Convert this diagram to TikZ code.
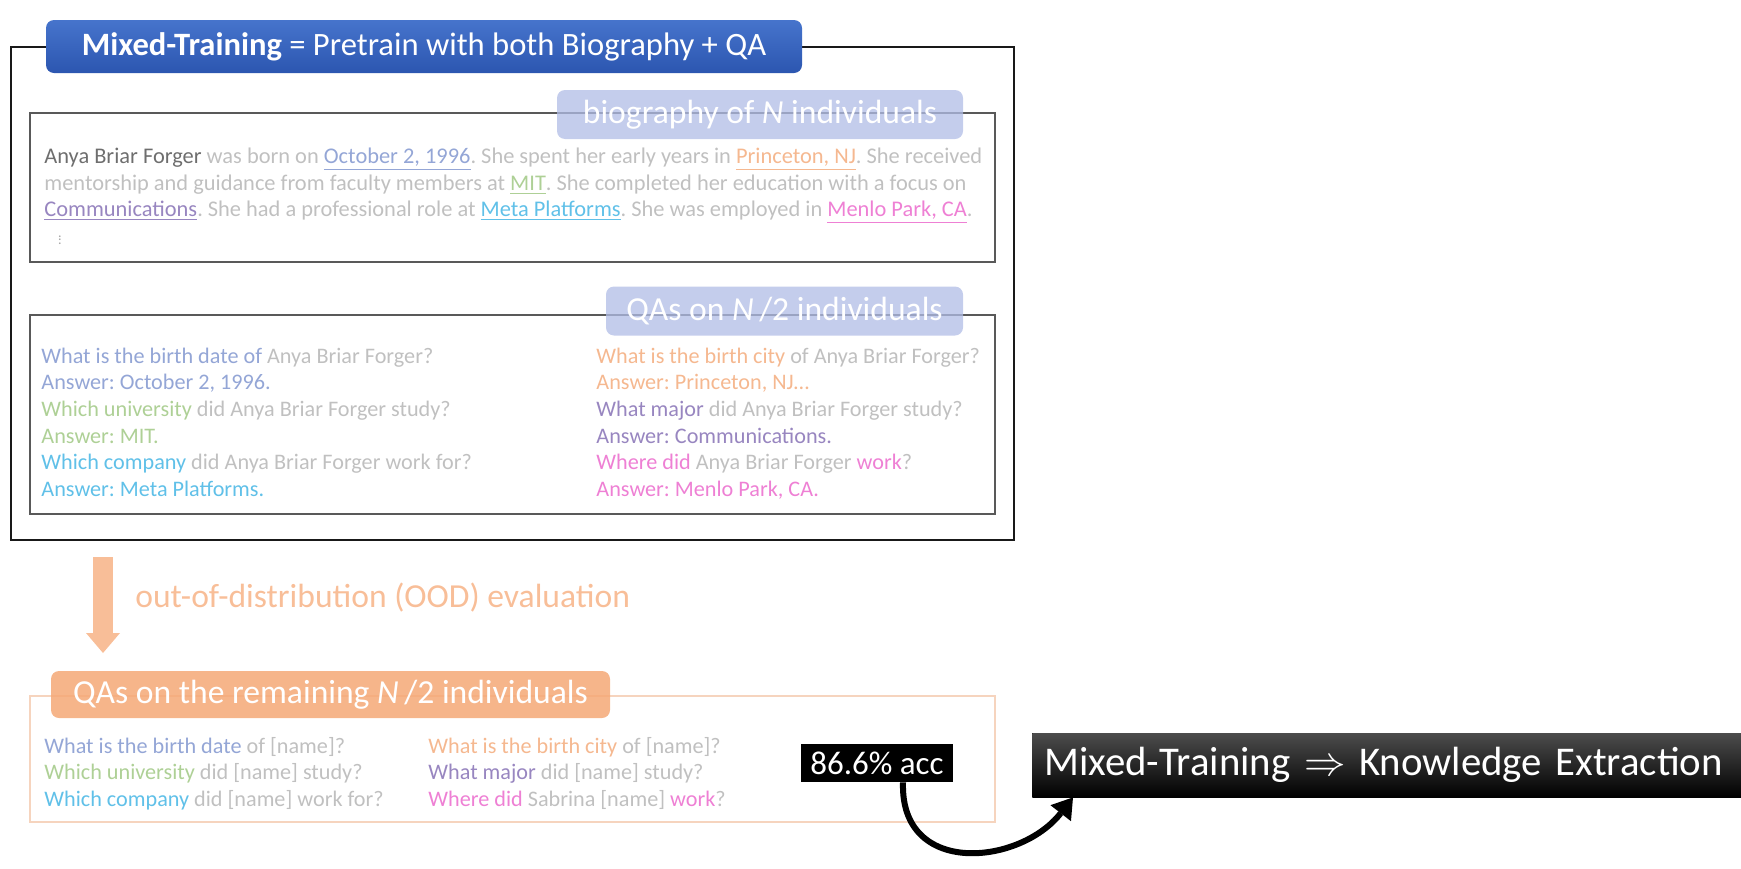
\documentclass[tikz,border=0pt]{standalone}
\usepackage{amsmath,amssymb}
\usepackage{fontspec}
\setmainfont{Carlito}
\usetikzlibrary{arrows.meta,fit}
\frenchspacing

\definecolor{bluebar}{RGB}{70,116,204}
\definecolor{bluebardark}{RGB}{44,86,176}
\definecolor{lavender}{RGB}{176,188,230}
\definecolor{peach}{RGB}{245,168,118}
\definecolor{peachline}{RGB}{246,212,190}
\definecolor{oodorange}{RGB}{248,190,152}
\definecolor{softgray}{RGB}{192,192,192}
\definecolor{namegray}{RGB}{110,110,110}
\definecolor{qblue}{RGB}{148,166,214}
\definecolor{qorange}{RGB}{245,184,144}
\definecolor{qgreen}{RGB}{174,208,150}
\definecolor{qpurple}{RGB}{152,134,192}
\definecolor{qcyan}{RGB}{96,192,232}
\definecolor{qpink}{RGB}{238,128,212}

\newcommand{\qBlue}[1]{\textcolor{qblue}{#1}}
\newcommand{\qOrange}[1]{\textcolor{qorange}{#1}}
\newcommand{\qGreen}[1]{\textcolor{qgreen}{#1}}
\newcommand{\qPurple}[1]{\textcolor{qpurple}{#1}}
\newcommand{\qCyan}[1]{\textcolor{qcyan}{#1}}
\newcommand{\qPink}[1]{\textcolor{qpink}{#1}}
\newcommand{\uBlue}[1]{\textcolor{qblue}{\underline{#1}}}
\newcommand{\uOrange}[1]{\textcolor{qorange}{\underline{#1}}}
\newcommand{\uGreen}[1]{\textcolor{qgreen}{\underline{#1}}}
\newcommand{\uPurple}[1]{\textcolor{qpurple}{\underline{#1}}}
\newcommand{\uCyan}[1]{\textcolor{qcyan}{\underline{#1}}}
\newcommand{\uPink}[1]{\textcolor{qpink}{\underline{#1}}}

\begin{document}
\begin{tikzpicture}[x=0.5pt,y=-0.5pt]
        \tikzstyle{frame} = [draw=black!90, line width=1pt, inner sep=0pt];
        \tikzstyle{panel} = [draw=black!65, line width=0.8pt, inner sep=0pt];
        \tikzstyle{tag} = [rounded corners=4pt, inner sep=0pt, text=white, font=\fontsize{16.8}{20}\selectfont];
        \tikzstyle{softtag} = [tag, fill=lavender, fill opacity=0.75, text opacity=1];
        \tikzstyle{bodyline} = [anchor=base west, inner sep=0pt, text=softgray, font=\fontsize{11.1}{13.35}\selectfont];
        \tikzstyle{bioline} = [bodyline, font=\fontsize{11.2}{13.35}\selectfont];
        \tikzstyle{blackbox} = [fill=black, text=white, inner sep=0pt];
        \tikzstyle{oodarrow} = [draw=oodorange, line width=10pt, -{Triangle[length=10pt,width=17pt,line width=0pt]}];
        \tikzstyle{bendarrow} = [draw=black, line width=3pt, -{Triangle[length=10pt,width=13pt,line width=0pt]}];

        \useasboundingbox (0,0) rectangle (1741,868);

        % pretraining data
        \node[frame, fit={(11,47) (1014,540)}] (mix) {};
        \node[tag, top color=bluebar, bottom color=bluebardark, minimum width=378pt, minimum height=26.5pt, font=\fontsize{16.3}{20}\selectfont] (mixTitle) at (424,46.5) {\textbf{Mixed-Training} = Pretrain with both Biography + QA};

        \node[panel, fit={(30,113) (995,262)}] (bio) {};
        \node[softtag, minimum width=203pt, minimum height=24.5pt] (bioTag) at (760,114.5) {biography of \textit{N} individuals};
        \node[bioline] (bio1) at (44,163) {\textcolor{namegray}{Anya Briar Forger} was born on \uBlue{October 2, 1996}. She spent her early years in \uOrange{Princeton, NJ}. She received};
        \node[bioline] (bio2) at (44,190) {mentorship and guidance from faculty members at \uGreen{MIT}. She completed her education with a focus on};
        \node[bioline] (bio3) at (44,216) {\uPurple{Communications}. She had a professional role at \uCyan{Meta Platforms}. She was employed in \uPink{Menlo Park, CA}.};
        \node[text=black!35, inner sep=0pt, font=\scriptsize, rotate=90] (bioDots) at (60,240) {...};

        \node[panel, fit={(30,315) (995,514)}] (qa) {};
        \node[softtag, minimum width=178.5pt, minimum height=24.5pt] (qaTag) at (784.5,311) {QAs on \textit{N}\,/2 individuals};
        \foreach \txt [count=\i from 0] in {
            {\qBlue{What is the birth date of} Anya Briar Forger?},
            {\qBlue{Answer: October 2, 1996.}},
            {\qGreen{Which university} did Anya Briar Forger study?},
            {\qGreen{Answer: MIT.}},
            {\qCyan{Which company} did Anya Briar Forger work for?},
            {\qCyan{Answer: Meta Platforms.}}}
            \node[bodyline] (qaL\i) at (41,{363+26.7*\i}) {\txt};
        \foreach \txt [count=\i from 0] in {
            {\qOrange{What is the birth city} of Anya Briar Forger?},
            {\qOrange{Answer: Princeton, NJ…}},
            {\qPurple{What major} did Anya Briar Forger study?},
            {\qPurple{Answer: Communications.}},
            {\qPink{Where did} Anya Briar Forger \qPink{work}?},
            {\qPink{Answer: Menlo Park, CA.}}}
            \node[bodyline] (qaR\i) at (596,{363+26.7*\i}) {\txt};

        % OOD evaluation
        \coordinate (oodTop) at (103,557);
        \coordinate (oodTip) at (103,653);
        \draw[oodarrow] (oodTop) -- (oodTip);
        \node[anchor=west, inner sep=0pt, text=oodorange, font=\fontsize{16.8}{20}\selectfont] (ood) at (135,598) {out-of-distribution (OOD) evaluation};

        \node[draw=peachline, line width=0.8pt, inner sep=0pt, fit={(30,696) (995,822)}] (test) {};
        \node[tag, fill=peach, fill opacity=0.85, text opacity=1, minimum width=279.5pt, minimum height=23.5pt] (testTag) at (330.5,694.5) {QAs on the remaining \textit{N}\,/2 individuals};
        \foreach \txt [count=\i from 0] in {
            {\qBlue{What is the birth date} of [name]?},
            {\qGreen{Which university} did [name] study?},
            {\qCyan{Which company} did [name] work for?}}
            \node[bodyline] (testL\i) at (44,{753+26.6*\i}) {\txt};
        \foreach \txt [count=\i from 0] in {
            {\qOrange{What is the birth city} of [name]?},
            {\qPurple{What major} did [name] study?},
            {\qPink{Where did} Sabrina [name] \qPink{work}?}}
            \node[bodyline] (testR\i) at (428,{753+26.6*\i}) {\txt};

        % result
        \node[blackbox, minimum width=76pt, minimum height=19pt, font=\fontsize{16.5}{20}\selectfont] (acc) at (877,763) {86.6\% acc};
        \node[blackbox, top color=black!70, middle color=black, bottom color=black, anchor=west, minimum height=32pt, text width=344pt, inner xsep=6pt, align=left, font=\fontsize{20.4}{24}\selectfont] (kx) at (1032,765) {Mixed-Training $\Rightarrow$ Knowledge Extraction};
        \draw[bendarrow] ([xshift=13pt]acc.south) .. controls +(-3,95) and +(-53,68) .. ([xshift=20.5pt]kx.south west);
    \end{tikzpicture}
\end{document}
